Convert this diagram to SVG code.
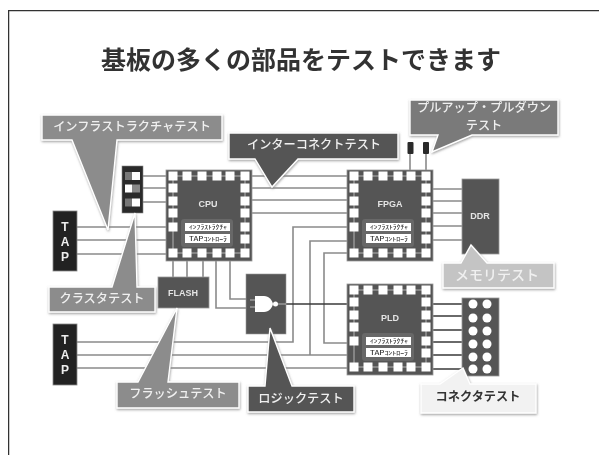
<svg xmlns="http://www.w3.org/2000/svg" width="599" height="455" viewBox="0 0 599 455">
<style>
text{font-family:"Noto Sans CJK JP","Liberation Sans",sans-serif;text-anchor:middle}
.w{fill:none;stroke:#8a8a8a;stroke-width:1.6}
.d{fill:none;stroke:#3a3a3a;stroke-width:1.6}
.chip{fill:#555;stroke:#999;stroke-width:.8}
.pad{fill:#fff}
.tr{stroke:#b5b5b5;stroke-width:1;fill:none}
.cn{font-size:9px;font-weight:700;fill:#e4e4e4;font-family:"Liberation Sans",sans-serif}
.sm{font-size:5.500px;font-weight:500;fill:#333}
.tap{font-size:12px;font-weight:700;fill:#eee;font-family:"Liberation Sans",sans-serif}
.lb{font-size:12.200px;font-weight:500;fill:#f0f0f0}
.cal{stroke:#fff;stroke-width:1.400;filter:url(#sh)}
.title{font-size:25px;font-weight:700;fill:#333}
</style>
<defs>
<filter id="sh" x="-10%" y="-10%" width="120%" height="125%"><feDropShadow dx="0.5" dy="1.2" stdDeviation="0.8" flood-color="#888" flood-opacity=".8"/></filter>
<filter id="soft" x="0" y="0" width="100%" height="100%"><feGaussianBlur stdDeviation="0.45"/></filter>
<g id="chip">
<rect class="chip" x="0" y="0" width="86" height="91"/>
<path class="tr" d="M7 6H79V83H7Z"/>
<g class="pad">
<rect x="2.500" y="1.500" width="9" height="9"/><rect x="16.500" y="1.500" width="9" height="9"/><rect x="31.500" y="1.500" width="9" height="9"/><rect x="46.500" y="1.500" width="9" height="9"/><rect x="59.500" y="1.500" width="9" height="9"/><rect x="74.500" y="1.500" width="9" height="9"/>
<rect x="2.500" y="78.500" width="9" height="9"/><rect x="16.500" y="78.500" width="9" height="9"/><rect x="31.500" y="78.500" width="9" height="9"/><rect x="46.500" y="78.500" width="9" height="9"/><rect x="59.500" y="78.500" width="9" height="9"/><rect x="74.500" y="78.500" width="9" height="9"/>
<rect x="2.500" y="13.500" width="9" height="9"/><rect x="2.500" y="26.500" width="9" height="9"/><rect x="2.500" y="38.500" width="9" height="9"/><rect x="2.500" y="52.500" width="9" height="9"/>
<rect x="74.500" y="13.500" width="9" height="9"/><rect x="74.500" y="26.500" width="9" height="9"/><rect x="74.500" y="38.500" width="9" height="9"/><rect x="74.500" y="52.500" width="9" height="9"/><rect x="74.500" y="64.500" width="9" height="9"/>
</g>
<rect x="15" y="49" width="52" height="28" rx="3" fill="#686868"/>
<rect x="19" y="53" width="45" height="8" fill="#fff"/>
<rect x="19" y="64" width="45" height="9" fill="#fff"/>
</g>
</defs>
<rect width="599" height="455" fill="#fff"/>
<g filter="url(#soft)">
<path id="frame" d="M8.500 455V10.500H599" fill="none" stroke="#333" stroke-width="1.500"/>
<text id="title" class="title" x="301" y="69">基板の多くの部品をテストできます</text>

<g id="connectors">
<path class="w" d="M77 227H166M77 240H166M77 254H166"/>
<path class="w" d="M143 176H166M143 188H166M143 202H166"/>
<path class="w" d="M252 176H347M252 188H347M252 200H347M252 213H347"/>
<path class="w" d="M77 342H293V227H347"/>
<path class="w" d="M77 355H347M310 355V241H347"/>
<path class="w" d="M77 368H347"/>
<path class="w" d="M347 253H324V343H347"/>
<path class="w" d="M173 261V277M187 261V277M203 261V277"/>
<path class="w" d="M216 261V308H246M230 261V299H246"/>
<path class="d" d="M286 304H347"/>
<path class="w" d="M433 189H462M433 201H462M433 213H462M433 226H462M433 240H462"/>
<path class="d" d="M433 304H462M433 316H462M433 330H462M433 342H462M433 355H462M433 369H462"/>
<path class="w" d="M410 154V170M426 154V170"/>
</g>

<g id="tap1"><rect x="53" y="211" width="24" height="60" fill="#242424" stroke="#888" stroke-width=".8"/><text class="tap" x="65" y="231">T</text><text class="tap" x="65" y="246">A</text><text class="tap" x="65" y="261">P</text></g>
<g id="tap2"><rect x="53" y="324" width="24" height="61" fill="#242424" stroke="#888" stroke-width=".8"/><text class="tap" x="65" y="344">T</text><text class="tap" x="65" y="359">A</text><text class="tap" x="65" y="374">P</text></g>

<g id="cluster"><rect x="122" y="166" width="21" height="47" fill="#2a2a2a" stroke="#888" stroke-width=".6"/>
<rect x="125" y="172" width="7" height="8" fill="#777"/><rect x="132" y="172" width="8" height="8" fill="#fff"/>
<rect x="125" y="184.500" width="7" height="8" fill="#fff"/><rect x="132" y="184.500" width="8" height="8" fill="#888"/>
<rect x="125" y="198.500" width="7" height="8" fill="#777"/><rect x="132" y="198.500" width="8" height="8" fill="#fff"/></g>

<g id="cpu"><use href="#chip" x="166" y="170"/><text class="cn" x="208" y="207">CPU</text><text class="sm" x="208" y="229" textLength="38" lengthAdjust="spacingAndGlyphs">ｲﾝﾌﾗｽﾄﾗｸﾁｬ</text><text class="sm" x="208" y="241" textLength="38" lengthAdjust="spacingAndGlyphs">TAPｺﾝﾄﾛｰﾗ</text></g>
<g id="fpga"><use href="#chip" x="347" y="170"/><text class="cn" x="390" y="207">FPGA</text><text class="sm" x="389" y="229" textLength="38" lengthAdjust="spacingAndGlyphs">ｲﾝﾌﾗｽﾄﾗｸﾁｬ</text><text class="sm" x="389" y="241" textLength="38" lengthAdjust="spacingAndGlyphs">TAPｺﾝﾄﾛｰﾗ</text></g>
<g id="pld"><use href="#chip" x="347" y="284"/><text class="cn" x="390" y="321">PLD</text><text class="sm" x="389" y="343" textLength="38" lengthAdjust="spacingAndGlyphs">ｲﾝﾌﾗｽﾄﾗｸﾁｬ</text><text class="sm" x="389" y="355" textLength="38" lengthAdjust="spacingAndGlyphs">TAPｺﾝﾄﾛｰﾗ</text></g>

<g id="flash"><rect class="chip" x="158" y="277" width="51" height="31"/><text class="cn" x="183" y="296">FLASH</text></g>

<g id="logic"><rect x="246" y="274" width="40" height="60" fill="#555" stroke="#999" stroke-width=".6"/>
<path d="M250 300H256M250 307H256M277 304H286" stroke="#bbb" stroke-width="1" fill="none"/>
<path d="M255 296H264C269 296 272 300 273 304C272 308 269 312 264 312H255Z" fill="#fff"/><circle cx="275.500" cy="304" r="2.500" fill="#fff"/></g>

<g id="ddr"><rect class="chip" x="462" y="179" width="37" height="75"/><text class="cn" x="480" y="219">DDR</text></g>

<g id="connector"><rect class="chip" x="462" y="298" width="37" height="78"/>
<g class="pad"><circle cx="473" cy="304" r="4.500"/><circle cx="487" cy="304" r="4.500"/><circle cx="473" cy="318" r="4.500"/><circle cx="487" cy="318" r="4.500"/><circle cx="473" cy="331" r="4.500"/><circle cx="487" cy="331" r="4.500"/><circle cx="473" cy="344" r="4.500"/><circle cx="487" cy="344" r="4.500"/><circle cx="473" cy="357" r="4.500"/><circle cx="487" cy="357" r="4.500"/><circle cx="473" cy="369" r="4.500"/><circle cx="487" cy="369" r="4.500"/></g></g>

<g id="res1"><rect x="407.500" y="142" width="6" height="12" rx="1" fill="#2a2a2a"/></g>
<g id="res2"><rect x="423" y="142" width="6" height="12" rx="1" fill="#2a2a2a"/></g>

<g id="callout-infra"><path class="cal" fill="#8c8c8c" d="M42 115H222V140H117L108 230L72 140H42Z"/><text class="lb" x="132" y="131">インフラストラクチャテスト</text></g>
<g id="callout-inter"><path class="cal" fill="#555" d="M229 133H398V159H298L272 187L255 159H229Z"/><text class="lb" x="314" y="149">インターコネクトテスト</text></g>
<g id="callout-pull"><path class="cal" fill="#7a7a7a" d="M410 100H558V135H472L432 152L438 135H410Z"/><text class="lb" x="484" y="112">プルアップ・プルダウン</text><text class="lb" x="484" y="130">テスト</text></g>
<g id="callout-mem"><path class="cal" fill="#c4c4c4" d="M443 263H461L471 245L487 263H554V288H443Z"/><text class="lb" style="font-size:14px" x="497" y="280">メモリテスト</text></g>
<g id="callout-cluster"><path class="cal" fill="#8c8c8c" d="M49 287H112L135 213L137 287H155V312H49Z"/><text class="lb" x="102" y="303">クラスタテスト</text></g>
<g id="callout-flash"><path class="cal" fill="#8c8c8c" d="M117 382H138L177 308L168 382H239V408H117Z"/><text class="lb" x="178" y="398">フラッシュテスト</text></g>
<g id="callout-logic"><path class="cal" fill="#555" d="M248 386H265L270 328L292 386H354V412H248Z"/><text class="lb" x="301" y="403">ロジックテスト</text></g>
<g id="callout-conn"><path class="cal" fill="#f2f2f2" d="M421 384H440L463 368L470 384H536V413H421Z"/><text class="lb" style="fill:#333;font-weight:700" x="478" y="401">コネクタテスト</text></g>
</g>
</svg>
